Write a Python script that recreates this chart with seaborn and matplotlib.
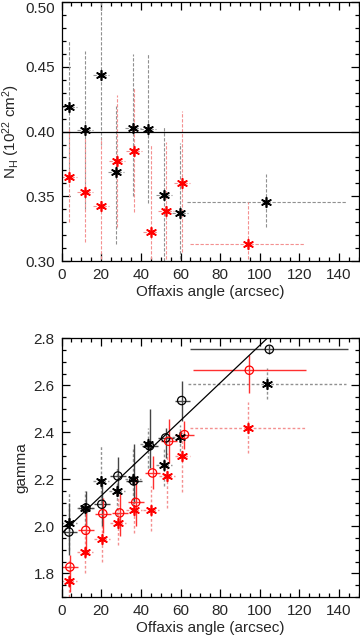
import numpy as np
import pandas as pd
import matplotlib
matplotlib.use('Agg')
import matplotlib.pyplot as plt
import seaborn as sns
from matplotlib.ticker import MultipleLocator

# top panel: N_H vs offaxis angle
nh_blk_x = [3.7, 11.7, 19.8, 27.4, 35.9, 43.4, 51.5, 59.9, 103.3]
nh_blk_y = [0.419, 0.401, 0.444, 0.369, 0.403, 0.402, 0.351, 0.337, 0.346]
nh_blk_ylo = [0.370, 0.340, 0.390, 0.313, 0.350, 0.345, 0.300, 0.290, 0.326]
nh_blk_yhi = [0.470, 0.462, 0.510, 0.420, 0.460, 0.460, 0.404, 0.391, 0.367]
nh_blk_xlo = [-0.3, 7.7, 15.8, 23.4, 31.9, 39.4, 47.5, 55.9, 63.5]
nh_blk_xhi = [7.7, 15.7, 23.8, 31.4, 39.9, 47.4, 55.5, 63.9, 143.4]

nh_red_x = [3.7, 12.0, 20.1, 27.9, 36.4, 44.9, 52.8, 60.8, 93.9]
nh_red_y = [0.365, 0.353, 0.3425, 0.377, 0.385, 0.3225, 0.3385, 0.360, 0.3135]
nh_red_ylo = [0.330, 0.315, 0.290, 0.326, 0.338, 0.290, 0.290, 0.307, 0.290]
nh_red_yhi = [0.403, 0.395, 0.395, 0.428, 0.434, 0.390, 0.392, 0.416, 0.346]
nh_red_xlo = [-0.3, 8.0, 16.1, 23.9, 32.4, 40.9, 48.8, 56.8, 65.0]
nh_red_xhi = [7.7, 16.0, 24.1, 31.9, 40.4, 48.9, 56.8, 64.8, 122.7]

nh_ref = 0.40

# bottom panel: gamma vs offaxis angle
g_bs_x = [3.7, 11.7, 19.8, 27.9, 36.0, 43.4, 51.5, 59.6, 103.4]
g_bs_y = [2.016, 2.078, 2.191, 2.149, 2.202, 2.352, 2.260, 2.380, 2.607]
g_bs_ylo = [1.90, 2.00, 2.10, 2.05, 2.07, 2.25, 2.17, 2.30, 2.54]
g_bs_yhi = [2.14, 2.15, 2.34, 2.25, 2.33, 2.42, 2.33, 2.43, 2.672]
g_bs_xlo = [-0.3, 7.7, 15.8, 23.9, 32.0, 39.4, 47.5, 55.6, 63.7]
g_bs_xhi = [7.7, 15.7, 23.8, 31.9, 40.0, 47.4, 55.5, 63.6, 143.3]

g_bc_x = [3.7, 12.3, 20.3, 28.4, 36.4, 44.4, 52.5, 60.6, 104.8]
g_bc_y = [1.976, 2.078, 2.094, 2.214, 2.193, 2.342, 2.376, 2.535, 2.753]
g_bc_ylo = [1.88, 2.00, 2.00, 2.13, 2.10, 2.25, 2.29, 2.45, 2.735]
g_bc_yhi = [2.10, 2.15, 2.20, 2.295, 2.35, 2.50, 2.42, 2.62, 2.77]
g_bc_xlo = [-0.3, 8.3, 16.3, 24.4, 32.4, 40.4, 48.5, 57.0, 64.9]
g_bc_xhi = [7.7, 16.3, 24.3, 32.4, 40.4, 48.4, 56.5, 65.0, 144.5]

g_rs_x = [3.7, 11.7, 20.3, 28.4, 36.4, 45.0, 53.0, 61.0, 93.9]
g_rs_y = [1.766, 1.891, 1.945, 2.016, 2.071, 2.068, 2.214, 2.298, 2.418]
g_rs_ylo = [1.68, 1.80, 1.85, 1.92, 1.97, 1.98, 2.077, 2.146, 2.31]
g_rs_yhi = [1.86, 1.99, 2.04, 2.12, 2.15, 2.17, 2.31, 2.40, 2.53]
g_rs_xlo = [-0.3, 7.7, 16.3, 24.4, 32.4, 41.0, 49.0, 57.0, 65.0]
g_rs_xhi = [7.7, 15.7, 24.3, 32.4, 40.4, 49.0, 57.0, 65.0, 122.7]

g_rc_x = [4.2, 12.2, 20.8, 29.3, 37.4, 45.9, 54.0, 62.0, 94.7]
g_rc_y = [1.827, 1.983, 2.054, 2.057, 2.102, 2.227, 2.362, 2.390, 2.664]
g_rc_ylo = [1.72, 1.88, 1.97, 1.96, 2.00, 2.16, 2.27, 2.33, 2.565]
g_rc_yhi = [1.88, 2.06, 2.12, 2.14, 2.20, 2.30, 2.455, 2.45, 2.728]
g_rc_xlo = [0.2, 8.2, 16.8, 25.3, 33.4, 41.9, 50.0, 57.0, 66.2]
g_rc_xhi = [8.2, 16.2, 24.8, 33.3, 41.4, 49.9, 58.0, 67.0, 123.5]

fit_a, fit_b = 1.97, 0.008

sns.set_style('ticks')
plt.rcParams['font.family'] = ['Liberation Sans', 'DejaVu Sans']
plt.rcParams['mathtext.fontset'] = 'custom'
plt.rcParams['mathtext.rm'] = 'Liberation Sans'
plt.rcParams['mathtext.it'] = 'Liberation Sans'

fig = plt.figure(figsize=(3.6, 6.37), dpi=100)
ax1 = fig.add_axes([0.171, 0.590, 0.826, 0.407])
ax2 = fig.add_axes([0.171, 0.063, 0.826, 0.406])

STAR = (6, 2, 0)


def errs(ax, x, y, xlo, xhi, ylo, yhi, color, ls, lw):
    x = np.array(x); y = np.array(y)
    xe = [x - np.array(xlo), np.array(xhi) - x]
    ye = [y - np.array(ylo), np.array(yhi) - y]
    eb = ax.errorbar(x, y, xerr=xe, yerr=ye, fmt='none', ecolor=color,
                     elinewidth=lw, capsize=0, zorder=2)
    for c in eb[2]:
        c.set_linestyle(ls)


def stars(ax, x, y, color):
    df = pd.DataFrame({'x': x, 'y': y})
    sns.scatterplot(data=df, x='x', y='y', ax=ax, marker=STAR, s=48,
                    color=color, edgecolor=color, linewidth=1.2, zorder=4)


def circles(ax, x, y, color):
    df = pd.DataFrame({'x': x, 'y': y})
    sns.scatterplot(data=df, x='x', y='y', ax=ax, marker='o', s=36,
                    facecolor='none', edgecolor=color, linewidth=0.9, zorder=4)


# top panel
errs(ax1, nh_blk_x, nh_blk_y, nh_blk_xlo, nh_blk_xhi, nh_blk_ylo, nh_blk_yhi,
     '#909090', (0, (3, 1.5)), 0.8)
errs(ax1, nh_red_x, nh_red_y, nh_red_xlo, nh_red_xhi, nh_red_ylo, nh_red_yhi,
     '#f49090', (0, (3, 1.5)), 0.8)
ax1.axhline(nh_ref, color='black', lw=0.9, zorder=3)
stars(ax1, nh_blk_x, nh_blk_y, 'black')
stars(ax1, nh_red_x, nh_red_y, 'red')

ax1.set_xlim(0, 150)
ax1.set_ylim(0.30, 0.50)
ax1.yaxis.set_major_locator(MultipleLocator(0.05))
ax1.yaxis.set_minor_locator(MultipleLocator(0.01))
ax1.set_ylabel(r'N$_\mathrm{H}$ (10$^{22}$ cm$^2$)', fontsize=11, labelpad=2)

# bottom panel
errs(ax2, g_bs_x, g_bs_y, g_bs_xlo, g_bs_xhi, g_bs_ylo, g_bs_yhi,
     '#909090', (0, (2, 1.5)), 1.0)
errs(ax2, g_rs_x, g_rs_y, g_rs_xlo, g_rs_xhi, g_rs_ylo, g_rs_yhi,
     '#f49090', (0, (2, 1.5)), 1.0)
errs(ax2, g_bc_x, g_bc_y, g_bc_xlo, g_bc_xhi, g_bc_ylo, g_bc_yhi,
     '#444444', '-', 1.0)
errs(ax2, g_rc_x, g_rc_y, g_rc_xlo, g_rc_xhi, g_rc_ylo, g_rc_yhi,
     '#ff3030', '-', 1.0)
fx = np.array([0, 150])
ax2.plot(fx, fit_a + fit_b * fx, color='black', lw=0.9, zorder=3)
stars(ax2, g_bs_x, g_bs_y, 'black')
stars(ax2, g_rs_x, g_rs_y, 'red')
circles(ax2, g_bc_x, g_bc_y, 'black')
circles(ax2, g_rc_x, g_rc_y, 'red')

ax2.set_xlim(0, 150)
ax2.set_ylim(1.70, 2.80)
ax2.yaxis.set_major_locator(MultipleLocator(0.2))
ax2.yaxis.set_minor_locator(MultipleLocator(0.05))
ax2.set_ylabel('gamma', fontsize=11, labelpad=4)

for ax in (ax1, ax2):
    ax.xaxis.set_major_locator(MultipleLocator(20))
    ax.xaxis.set_minor_locator(MultipleLocator(5))
    ax.set_xlabel('Offaxis angle (arcsec)', fontsize=11, labelpad=2)
    ax.tick_params(which='both', direction='in', top=True, right=True,
                   labelsize=11, color='black', width=0.9)
    ax.tick_params(which='major', length=6, pad=5)
    ax.tick_params(which='minor', length=3)
    for sp in ax.spines.values():
        sp.set_visible(True)
        sp.set_linewidth(0.9)
        sp.set_color('black')

# top label of upper panel hangs below its tick, as in the original
fig.canvas.draw()
for t in ax1.yaxis.get_major_ticks():
    if abs(t.get_loc() - 0.50) < 1e-6:
        t.label1.set_va('top')

fig.savefig('out.png', dpi=100)
